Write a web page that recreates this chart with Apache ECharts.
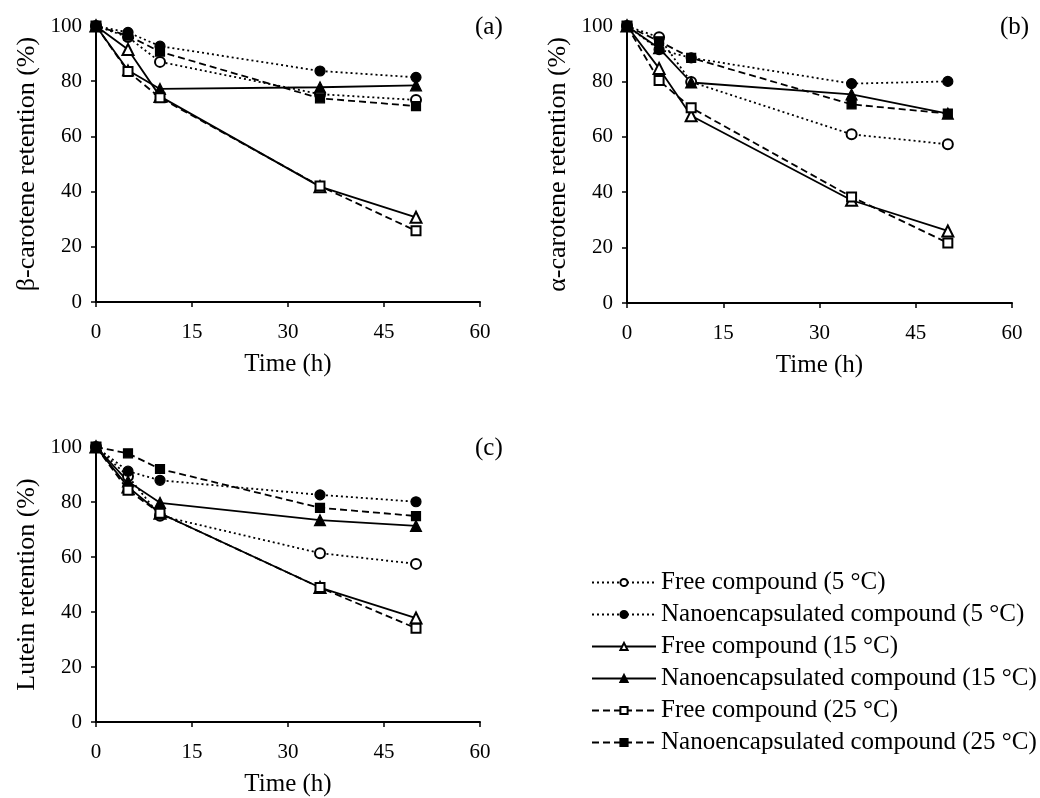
<!DOCTYPE html>
<html>
<head>
<meta charset="utf-8">
<script src="https://cdn.jsdelivr.net/npm/echarts@6/dist/echarts.min.js"></script>
<style>
html,body{margin:0;padding:0;background:#fff;}
#chart{width:1040px;height:798px;}
</style>
</head>
<body>
<div id="chart"></div>
<script>
const hours = [0, 5, 10, 35, 50];
const seriesNames = [
  'Free compound (5 °C)',
  'Nanoencapsulated compound (5 °C)',
  'Free compound (15 °C)',
  'Nanoencapsulated compound (15 °C)',
  'Free compound (25 °C)',
  'Nanoencapsulated compound (25 °C)'
];
const xTicks = [0, 15, 30, 45, 60];
const yTicks = [0, 20, 40, 60, 80, 100];

// (a) beta-carotene
const betaFree5   = [100, 96.0, 87.0, 75.3, 73.2];
const betaNano5   = [100, 97.7, 92.7, 83.7, 81.4];
const betaFree15  = [100, 91.5, 74.5, 41.8, 30.7];
const betaNano15  = [100, 84.0, 77.2, 77.8, 78.5];
const betaFree25  = [100, 83.5, 74.0, 42.0, 25.8];
const betaNano25  = [100, 96.5, 90.7, 73.8, 71.0];
// (b) alpha-carotene
const alphaFree5  = [100, 95.9, 79.8, 60.9, 57.3];
const alphaNano5  = [100, 91.5, 88.5, 79.2, 80.0];
const alphaFree15 = [100, 84.7, 67.6, 37.1, 26.0];
const alphaNano15 = [100, 92.0, 79.6, 75.3, 68.4];
const alphaFree25 = [100, 80.3, 70.5, 38.3, 21.7];
const alphaNano25 = [100, 94.5, 88.5, 71.7, 68.4];
// (c) lutein
const lutFree5    = [100, 89.4, 75.0, 61.4, 57.5];
const lutNano5    = [100, 91.2, 87.9, 82.6, 80.1];
const lutFree15   = [100, 85.5, 75.9, 48.9, 37.8];
const lutNano15   = [100, 87.5, 79.7, 73.4, 71.3];
const lutFree25   = [100, 84.3, 75.9, 48.9, 34.1];
const lutNano25   = [100, 97.7, 92.0, 77.9, 74.9];

const panels = [
  {label: '(a)', yName: 'β-carotene retention (%)', data: [betaFree5, betaNano5, betaFree15, betaNano15, betaFree25, betaNano25]},
  {label: '(b)', yName: 'α-carotene retention (%)', data: [alphaFree5, alphaNano5, alphaFree15, alphaNano15, alphaFree25, alphaNano25]},
  {label: '(c)', yName: 'Lutein retention (%)', data: [lutFree5, lutNano5, lutFree15, lutNano15, lutFree25, lutNano25]}
];

const FONT = '"Liberation Serif", "Times New Roman", serif';
const styles = [
  {symbol: 'emptyCircle', size: 10, type: [2, 3]},
  {symbol: 'circle', size: 10, type: [2, 3]},
  {symbol: 'emptyTriangle', size: 11, type: 'solid'},
  {symbol: 'triangle', size: 11, type: 'solid'},
  {symbol: 'emptyRect', size: 9, type: [7, 4]},
  {symbol: 'rect', size: 9, type: [7, 4]}
];

const grids = [
  {left: 96, top: 26, width: 384, height: 276},
  {left: 627, top: 26, width: 385, height: 277},
  {left: 96, top: 447, width: 384, height: 276}
];

const axisCommon = {
  axisLine: {show: true, lineStyle: {color: '#000', width: 2}},
  axisTick: {show: true, inside: false, length: 5, lineStyle: {color: '#000', width: 1.5}},
  splitLine: {show: false},
  axisLabel: {color: '#000', fontFamily: FONT, fontSize: 21}
};

const xAxes = [], yAxes = [], series = [], titles = [];
panels.forEach((p, i) => {
  xAxes.push(Object.assign({}, axisCommon, {
    type: 'value', gridIndex: i, min: 0, max: 60, interval: 15,
    name: 'Time (h)', nameLocation: 'middle', nameGap: 50,
    nameTextStyle: {color: '#000', fontFamily: FONT, fontSize: 25},
    axisLabel: Object.assign({}, axisCommon.axisLabel, {margin: 20,
      formatter: v => xTicks.includes(v) ? String(v) : ''})
  }));
  yAxes.push(Object.assign({}, axisCommon, {
    type: 'value', gridIndex: i, min: 0, max: 100, interval: 20,
    name: p.yName, nameLocation: 'middle', nameGap: 56, nameRotate: 90,
    nameTextStyle: {color: '#000', fontFamily: FONT, fontSize: 26},
    axisLabel: Object.assign({}, axisCommon.axisLabel, {margin: 14,
      formatter: v => yTicks.includes(v) ? String(v) : ''})
  }));
  p.data.forEach((vals, k) => {
    const st = styles[k];
    series.push({
      name: seriesNames[k], type: 'line', xAxisIndex: i, yAxisIndex: i,
      data: hours.map((h, j) => [h, vals[j]]),
      symbol: st.symbol, symbolSize: st.size, showAllSymbol: true,
      itemStyle: {color: '#000', borderColor: '#000', borderWidth: 1.2},
      lineStyle: {color: '#000', width: 1.8, type: st.type},
      emphasis: {disabled: true}, animation: false
    });
  });
});

titles.push({text: '(a)', left: 470, top: 10});
titles.push({text: '(b)', left: 995, top: 10});
titles.push({text: '(c)', left: 470, top: 431});
titles.forEach(t => t.textStyle = {color: '#000', fontFamily: FONT, fontSize: 25, fontWeight: 'normal'});

const chart = echarts.init(document.getElementById('chart'), null, {renderer: 'canvas'});
chart.setOption({
  backgroundColor: '#fff',
  animation: false,
  title: titles,
  grid: grids,
  xAxis: xAxes,
  yAxis: yAxes,
  legend: {
    data: seriesNames, orient: 'vertical', left: 586, top: 565,
    itemWidth: 64, itemHeight: 9, itemGap: 7,
    textStyle: {color: '#000', fontFamily: FONT, fontSize: 25, lineHeight: 25},
    selectedMode: false
  },
  series: series
});
</script>
</body>
</html>
